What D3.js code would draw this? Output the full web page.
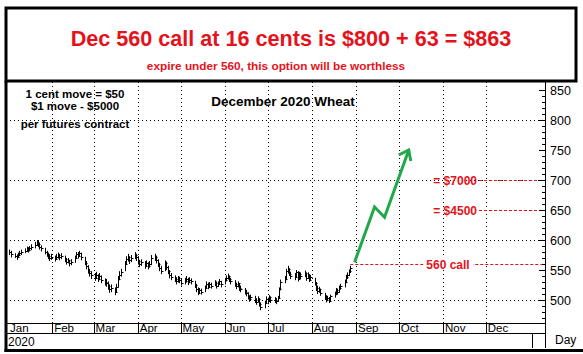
<!DOCTYPE html>
<html lang="en">
<head>
<meta charset="UTF-8">
<title>December 2020 Wheat</title>
<script src="https://d3js.org/d3.v7.min.js"></script>
<style>
  body {margin:0; background:#fff;}
  svg {display:block; font-family: Arial, "Liberation Sans", sans-serif;}
</style>
</head>
<body>
<div id="chart"></div>
<script>
// Dec 2020 wheat, daily bars (cents/bu), one value per trading day from Jan 2
var closes = [
  580, 576,
  574, 571, 575, 578, 580,  582, 585, 583, 586, 588,  592, 596, 594, 589, 586,  580, 576, 573, 570, 572,
  569, 572, 575, 571, 573,  568, 564, 566, 561, 563,  570, 576, 574, 578, 571,  562, 556, 549, 545, 541,
  537, 542, 535, 540, 533,  530, 528, 523, 518, 520,  514, 522, 535, 542, 546,  560, 568, 572, 566, 570,
  575, 571, 565, 560, 563,  557, 561, 556, 560, 570,  572, 566, 560, 553, 549,  562, 555, 548, 541, 538,
  535, 531, 536, 533, 529,  532, 535, 530, 534, 531,  525, 518, 512, 516, 514,  520, 527, 522, 526, 524,
  529, 524, 527, 531, 526,  533, 537, 540, 535, 531,  527, 523, 528, 520, 518,  514, 511, 506, 502, 505,
  500, 497, 502, 494, 488,  495, 502, 498, 505, 500,  500, 498, 503, 518, 530,  535, 548, 552, 544, 540,
  538, 546, 535, 543, 540,  545, 537, 542, 534, 538,  528, 520, 515, 518, 512,  505, 500, 503, 498, 506,
  510, 516, 513, 520, 523,  530, 538, 542, 548, 553
];
var highs = [
  584, 582,
  578, 576, 579, 582, 584,  586, 589, 588, 590, 593,  597, 600, 599, 595, 591,  587, 582, 579, 576, 577,
  574, 577, 579, 577, 578,  574, 570, 570, 567, 568,  574, 580, 580, 582, 579,  572, 565, 558, 552, 548,
  545, 547, 543, 545, 541,  536, 535, 531, 526, 526,  521, 527, 540, 548, 552,  565, 573, 577, 573, 575,
  580, 577, 573, 567, 568,  565, 566, 563, 565, 575,  577, 574, 568, 562, 557,  566, 564, 557, 550, 545,
  541, 538, 540, 539, 536,  537, 540, 537, 538, 536,  532, 527, 521, 520, 519,  524, 531, 529, 530, 529,
  533, 531, 531, 535, 532,  537, 541, 544, 541, 537,  533, 529, 531, 528, 524,  520, 517, 513, 508, 509,
  507, 503, 506, 503, 496,  499, 506, 504, 508, 506,  505, 503, 507, 521, 534,  540, 552, 557, 553, 547,
  545, 550, 548, 547, 546,  549, 546, 546, 543, 542,  537, 530, 524, 522, 519,  512, 508, 507, 505, 509,
  514, 520, 519, 524, 527,  534, 542, 546, 551, 557
];
var lows = [
  575, 571,
  570, 567, 570, 573, 575,  578, 580, 579, 581, 583,  586, 590, 588, 584, 581,  576, 572, 568, 565, 567,
  564, 567, 569, 566, 568,  563, 559, 561, 556, 558,  562, 569, 569, 572, 566,  558, 551, 544, 539, 535,
  532, 535, 530, 533, 528,  524, 522, 517, 512, 513,  508, 512, 521, 533, 539,  548, 559, 564, 560, 563,
  568, 565, 559, 555, 557,  552, 555, 551, 554, 558,  565, 561, 555, 548, 543,  548, 550, 543, 536, 533,
  530, 526, 529, 528, 524,  526, 529, 525, 528, 526,  520, 513, 508, 510, 509,  513, 519, 518, 520, 519,
  523, 519, 522, 525, 521,  526, 531, 534, 530, 526,  522, 518, 521, 515, 513,  509, 506, 501, 497, 499,
  495, 492, 496, 489, 483,  486, 494, 493, 497, 495,  495, 493, 497, 502, 516,  528, 533, 544, 540, 535,
  533, 537, 531, 534, 535,  538, 532, 535, 530, 532,  524, 515, 510, 512, 507,  500, 496, 498, 495, 499,
  504, 508, 509, 512, 517,  521, 528, 535, 540, 545
];

var priceTicks = [500, 550, 600, 650, 700, 750, 800, 850];
var gridPrices = [500, 600, 700, 800];
var monthNames = ["Jan", "Feb", "Mar", "Apr", "May", "Jun", "Jul", "Aug", "Sep", "Oct", "Nov", "Dec"];

var callStrike = 560;
var targetPrices = [650, 700];
var targetLabels = ["= $4500", "= $7000"];

var arrowDates = ["2020-08-31", "2020-09-14", "2020-09-21", "2020-10-08"];
var arrowPrices = [563, 655, 638, 750];

var W = 583, H = 354;
var red = "#e5121b", green = "#21a84a";
var plotLeft = 6, plotRight = 545, plotTop = 82, plotBottom = 323;

var svg = d3.select("#chart").append("svg")
    .attr("width", W)
    .attr("height", H);

var parse = d3.timeParse("%Y-%m-%d");
var start = parse("2020-01-02");
var days = d3.timeDay.range(start, parse("2020-12-31"))
    .filter(d => d.getDay() !== 0 && d.getDay() !== 6)
    .slice(0, closes.length);

var bars = days.map((d, i) => ({date: d, high: highs[i], low: lows[i], close: closes[i]}));

var x = d3.scaleTime()
    .domain([parse("2020-01-01"), parse("2021-01-01")])
    .range([8, 530]);
var y = d3.scaleLinear()
    .domain([500, 850])
    .range([300, 90]);

var px = v => Math.round(v) + 0.5;

// dotted grid
svg.selectAll(".hgrid")
    .data(gridPrices)
    .enter().append("line")
    .attr("x1", plotLeft).attr("x2", plotRight)
    .attr("y1", d => px(y(d))).attr("y2", d => px(y(d)))
    .attr("stroke", "#000")
    .attr("stroke-dasharray", "1,3");

var monthStarts = d3.timeMonth.range(parse("2020-01-01"), parse("2021-01-01"));
svg.selectAll(".vgrid")
    .data(monthStarts.slice(1))
    .enter().append("line")
    .attr("x1", d => px(x(d))).attr("x2", d => px(x(d)))
    .attr("y1", plotTop).attr("y2", plotBottom)
    .attr("stroke", "#000")
    .attr("stroke-dasharray", "1,3");

// price bars
var barG = svg.append("g").attr("stroke", "#000").attr("stroke-width", 1);
barG.selectAll(".hl")
    .data(bars)
    .enter().append("line")
    .attr("x1", d => px(x(d.date))).attr("x2", d => px(x(d.date)))
    .attr("y1", d => y(d.high)).attr("y2", d => y(d.low));
barG.selectAll(".cl")
    .data(bars)
    .enter().append("line")
    .attr("x1", d => px(x(d.date))).attr("x2", d => px(x(d.date)) + 2)
    .attr("y1", d => px(y(d.close))).attr("y2", d => px(y(d.close)));

// red dashed levels
var lastX = x(days[days.length - 1]);
svg.append("line")
    .attr("x1", lastX).attr("x2", plotRight)
    .attr("y1", px(y(callStrike))).attr("y2", px(y(callStrike)))
    .attr("stroke", red).attr("stroke-dasharray", "3,2");
svg.append("rect")
    .attr("x", 424).attr("y", y(callStrike) - 7)
    .attr("width", 49).attr("height", 13)
    .attr("fill", "#fff");
svg.append("text")
    .attr("x", 448).attr("y", y(callStrike) + 4.5)
    .attr("text-anchor", "middle")
    .attr("fill", red).attr("font-weight", "bold").attr("font-size", "12px")
    .text(callStrike + " call");

svg.selectAll(".tgt")
    .data(targetPrices)
    .enter().append("line")
    .attr("x1", 479).attr("x2", plotRight)
    .attr("y1", d => px(y(d))).attr("y2", d => px(y(d)))
    .attr("stroke", red).attr("stroke-dasharray", "3,2");
svg.selectAll(".tgtLabel")
    .data(targetPrices)
    .enter().append("text")
    .attr("x", 477).attr("y", d => y(d) + 4.5)
    .attr("text-anchor", "end")
    .attr("fill", red).attr("font-weight", "bold").attr("font-size", "12px")
    .text((d, i) => targetLabels[i]);

// green arrow
var arrowPts = arrowDates.map((d, i) => [x(parse(d)), y(arrowPrices[i])]);
svg.append("path")
    .attr("d", d3.line()(arrowPts))
    .attr("fill", "none").attr("stroke", green)
    .attr("stroke-width", 3).attr("stroke-linejoin", "miter");
var tip = arrowPts[arrowPts.length - 1];
svg.append("path")
    .attr("d", d3.line()([[tip[0] - 10, tip[1] + 5], tip, [tip[0] + 2, tip[1] + 11]]))
    .attr("fill", "none").attr("stroke", green)
    .attr("stroke-width", 3);

// right price axis
svg.append("g")
    .attr("transform", `translate(${plotRight},0)`)
    .call(d3.axisLeft(y).tickValues(d3.range(470, 851, 10)).tickSize(3).tickFormat(""))
    .call(g => g.select(".domain").remove());
svg.append("g")
    .attr("transform", `translate(${plotRight},0)`)
    .call(d3.axisLeft(y).tickValues(priceTicks).tickSize(6).tickFormat(""))
    .call(g => g.select(".domain").remove());
svg.selectAll(".ylab")
    .data(priceTicks)
    .enter().append("text")
    .attr("x", 550).attr("y", d => y(d) + 5)
    .attr("font-size", "12.5px")
    .text(d => d);
svg.append("line")
    .attr("x1", px(plotRight)).attr("x2", px(plotRight))
    .attr("y1", plotTop).attr("y2", 348)
    .attr("stroke", "#000");

// month & year rows
[plotBottom, 333].forEach(function(yy) {
    svg.append("line")
        .attr("x1", plotLeft).attr("x2", plotRight)
        .attr("y1", yy + 0.5).attr("y2", yy + 0.5)
        .attr("stroke", "#000");
});
svg.selectAll(".msep")
    .data(monthStarts.slice(1))
    .enter().append("line")
    .attr("x1", d => px(x(d))).attr("x2", d => px(x(d)))
    .attr("y1", plotBottom).attr("y2", 333)
    .attr("stroke", "#000");
svg.selectAll(".mlab")
    .data(monthStarts)
    .enter().append("text")
    .attr("x", d => x(d) + 2).attr("y", 332)
    .attr("font-size", "11.5px")
    .text((d, i) => monthNames[i]);
svg.append("text")
    .attr("x", 8).attr("y", 346)
    .attr("font-size", "12px")
    .text("2020");
svg.append("line")
    .attr("x1", px(x(parse("2021-01-01")) + 2)).attr("x2", px(x(parse("2021-01-01")) + 2))
    .attr("y1", 333).attr("y2", 348)
    .attr("stroke", "#000");
svg.append("text")
    .attr("x", 555).attr("y", 344)
    .attr("font-size", "12px")
    .text("Day");

// frame + header
svg.append("rect")
    .attr("x", 6).attr("y", 8)
    .attr("width", 570).attr("height", 73)
    .attr("fill", "none").attr("stroke", "#000").attr("stroke-width", 3);
svg.append("line")
    .attr("x1", 6).attr("x2", 6).attr("y1", 81).attr("y2", 352)
    .attr("stroke", "#000").attr("stroke-width", 3);
svg.append("line")
    .attr("x1", 4.5).attr("x2", W).attr("y1", 350.5).attr("y2", 350.5)
    .attr("stroke", "#000").attr("stroke-width", 3);

svg.append("text")
    .attr("x", 291).attr("y", 46)
    .attr("text-anchor", "middle")
    .attr("fill", red).attr("font-weight", "bold").attr("font-size", "21.6px")
    .text("Dec 560 call at 16 cents is $800 + 63 = $863");
svg.append("text")
    .attr("x", 276).attr("y", 70)
    .attr("text-anchor", "middle")
    .attr("fill", red).attr("font-weight", "bold").attr("font-size", "11.8px")
    .text("expire under 560, this option will be worthless");

// notes
var notes = ["1 cent move = $50", "$1 move - $5000", "per futures contract"];
var noteY = [98, 110, 128];
svg.selectAll(".note")
    .data(notes)
    .enter().append("text")
    .attr("x", 75).attr("y", (d, i) => noteY[i])
    .attr("text-anchor", "middle")
    .attr("font-weight", "bold").attr("font-size", "11.5px")
    .text(d => d);
svg.append("text")
    .attr("x", 283).attr("y", 106)
    .attr("text-anchor", "middle")
    .attr("font-weight", "bold").attr("font-size", "13.5px")
    .text("December 2020 Wheat");
</script>
</body>
</html>
